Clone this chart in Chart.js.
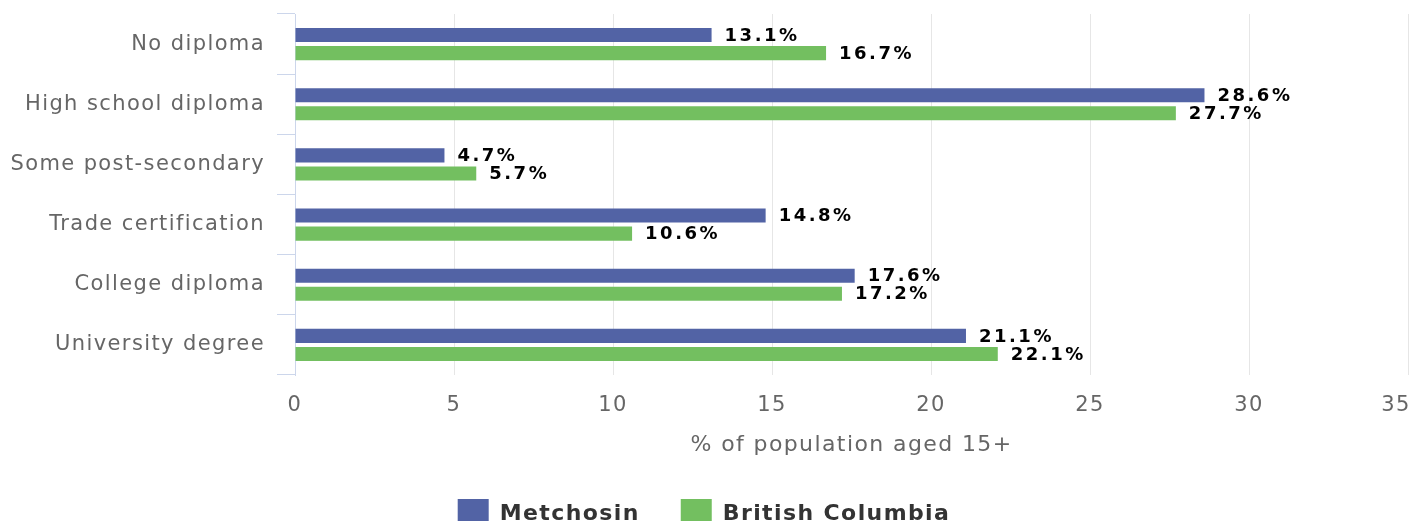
<!DOCTYPE html>
<html>
<head>
<meta charset="utf-8">
<script src="https://cdn.jsdelivr.net/npm/chart.js@4/dist/chart.umd.min.js"></script>
<style>
  html, body { margin:0; padding:0; background:#fff; overflow:hidden; }
  #wrap { width:1411px; height:540px; position:relative; }
</style>
</head>
<body>
<div id="wrap"><canvas id="chart"></canvas></div>
<script>
/* education levels, Metchosin vs BC */
const categories = ['No diploma','High school diploma','Some post-secondary','Trade certification','College diploma','University degree'];
const metchosin = [13.1, 28.6, 4.7, 14.8, 17.6, 21.1];
const britishColumbia = [16.7, 27.7, 5.7, 10.6, 17.2, 22.1];
const xTicks = [0, 5, 10, 15, 20, 25, 30, 35];
const seriesNames = ['Metchosin', 'British Columbia'];

const FONT = '"DejaVu Sans", sans-serif';

/* canvas letter spacing (reset on every resize, so set it again before layout/draw) */
const spacing = {
  id: 'spacing',
  beforeLayout(chart) { chart.ctx.letterSpacing = '1.4px'; },
  beforeDraw(chart) { chart.ctx.letterSpacing = '1.4px'; }
};

/* value labels at the end of each bar */
const barLabels = {
  id: 'barLabels',
  afterDatasetsDraw(chart) {
    const ctx = chart.ctx;
    ctx.save();
    ctx.letterSpacing = '2.5px';
    ctx.font = 'bold 18px ' + FONT;
    ctx.fillStyle = '#000';
    ctx.textAlign = 'left';
    ctx.textBaseline = 'middle';
    chart.data.datasets.forEach((ds, i) => {
      chart.getDatasetMeta(i).data.forEach((bar, j) => {
        ctx.fillText(ds.data[j].toFixed(1) + '%', bar.x + 13, bar.y + 1);
      });
    });
    ctx.restore();
  }
};

new Chart(document.getElementById('chart'), {
  type: 'bar',
  data: {
    labels: categories,
    datasets: [
      { label: seriesNames[0], data: metchosin, backgroundColor: '#5263a5' },
      { label: seriesNames[1], data: britishColumbia, backgroundColor: '#73bf60' }
    ]
  },
  options: {
    indexAxis: 'y',
    responsive: true,
    maintainAspectRatio: false,
    animation: false,
    layout: { padding: { top: 14, right: 3, left: 0, bottom: 0 } },
    datasets: { bar: { categoryPercentage: 0.6, barPercentage: 0.78 } },
    scales: {
      x: {
        min: 0, max: 35,
        afterBuildTicks: s => { s.ticks = xTicks.map(v => ({ value: v })); },
        afterFit: s => { s.paddingRight = 0; s.paddingLeft = 0; s.height = 83; },
        grid: { color: c => (c.tick && c.tick.value === 0 ? '#ccd6eb' : '#e6e6e6'), drawTicks: false },
        border: { display: false },
        ticks: {
          padding: 18, color: '#666', font: { family: FONT, size: 21 },
          // last label is pushed inside the canvas edge
          callback: v => (v === 35 ? '35   ' : String(v))
        },
        title: {
          display: true, text: '% of population aged 15+', color: '#666',
          font: { family: FONT, size: 22 }, padding: { top: 0, bottom: 0 }
        }
      },
      y: {
        afterFit: s => { s.width = 295; s.paddingTop = 0; s.paddingBottom = 0; },
        grid: { drawOnChartArea: false, offset: true, tickLength: 18, tickColor: '#ccd6eb', color: '#ccd6eb' },
        border: { color: '#ccd6eb', width: 1 },
        ticks: { padding: 12, color: '#666', font: { family: FONT, size: 21 } }
      }
    },
    plugins: {
      legend: {
        position: 'bottom',
        labels: {
          boxWidth: 31, boxHeight: 31, padding: 41,
          color: '#333', font: { family: FONT, size: 22, weight: 'bold' }
        }
      },
      tooltip: { enabled: false }
    }
  },
  plugins: [spacing, barLabels]
});
</script>
</body>
</html>
